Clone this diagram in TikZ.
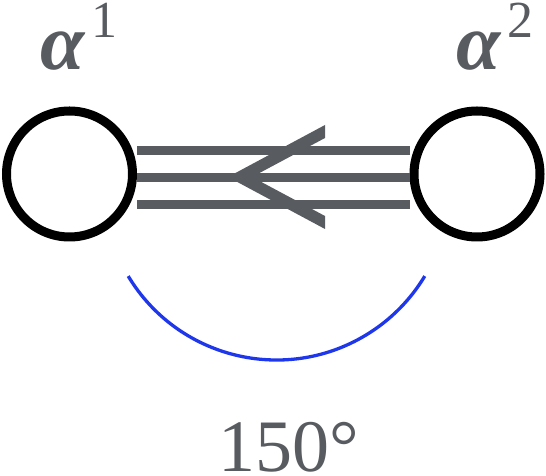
\documentclass[tikz,border=0pt]{standalone}
\usepackage{fontspec}
\setmainfont{Liberation Serif}
\usetikzlibrary{positioning}
\definecolor{bondgray}{RGB}{88,91,96}
\definecolor{arcblue}{RGB}{30,55,235}

\begin{document}
\begin{tikzpicture}[x=1pt,y=1pt]
\tikzset{
  vertex/.style={circle,draw=black,line width=9pt,minimum size=126pt,inner sep=0pt},
  bond/.style={draw=bondgray,line width=9pt},
  chevron/.style={fill=bondgray},
  anglearc/.style={draw=arcblue,line width=3.3pt},
  tag/.style={text=bondgray,inner sep=0pt,anchor=base,font=\fontsize{80}{80}\selectfont},
}
\useasboundingbox (0,0) rectangle (546,476);
\node[vertex] (root1) at (69.5,302) {};
\node[vertex] (root2) at (477,302) {};
%
\node[tag] (name1) at (79,406) {\bfseries\itshape α\kern7pt\raisebox{32pt}{\mdseries\upshape\fontsize{52}{52}\selectfont 1}};
\node[tag] (name2) at (495,406) {\bfseries\itshape α\kern7pt\raisebox{32pt}{\mdseries\upshape\fontsize{52}{52}\selectfont 2}};
%
\path[bond] ([yshift=23pt]root1.east) -- ([yshift=23pt]root2.west);
\path[bond] ([yshift=-3.5pt]root1.east) -- ([yshift=-3.5pt]root2.west);
\path[bond] ([yshift=-30.5pt]root1.east) -- ([yshift=-30.5pt]root2.west);
\coordinate (tip) at (228,299);
\path[chevron] (tip) -- ++(97,52) -- ++(0,-13) -- ++(-73,-39) -- ++(73,-39) -- ++(0,-13) -- cycle;
%
\coordinate (arcstart) at (128.2,199.9);
\path[anglearc] (arcstart) arc[start angle=211,end angle=329,radius=173];
\node[tag,font=\fontsize{74}{74}\selectfont] (angle) at (289,4) {150°};
\end{tikzpicture}
\end{document}
